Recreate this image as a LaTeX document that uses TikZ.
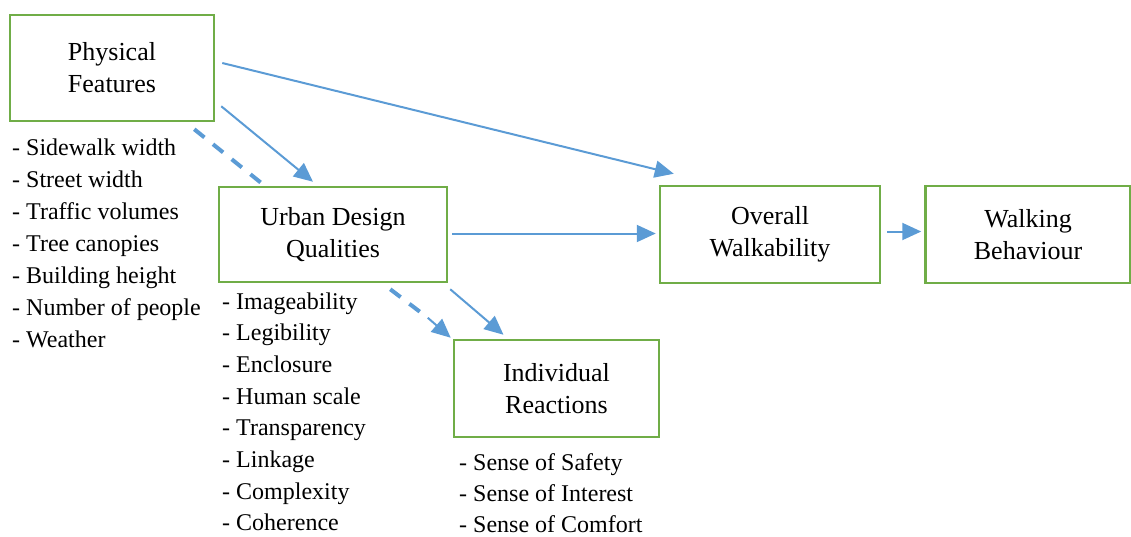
\documentclass[tikz,border=0pt]{standalone}
\usepackage{fontspec}
\setmainfont{Liberation Serif}
\usetikzlibrary{arrows.meta}
\definecolor{boxgreen}{HTML}{70AD47}
\definecolor{linkblue}{HTML}{5B9BD5}
\begin{document}
\begin{tikzpicture}[x=1pt,y=-1pt,
  concept/.style={draw=boxgreen,line width=2.5pt,align=center,inner sep=0pt,
    font=\fontsize{26}{32}\selectfont},
  item/.style={anchor=base west,inner sep=0pt,font=\fontsize{24}{32}\selectfont},
  link/.style={draw=linkblue,line width=2pt,-{Triangle[length=19pt,width=17pt]}},
  dashlink/.style={draw=linkblue,line width=4pt,dash pattern=on 13pt off 11pt}
]
\useasboundingbox (0,0) rectangle (1131,536);

% main concepts
\node[concept,minimum width=204pt,minimum height=106pt] (pf) at (112,68) {Physical\\Features};
\node[concept,minimum width=228pt,minimum height=95pt] (udq) at (333,234.5) {Urban Design\\Qualities};
\node[concept,minimum width=205pt,minimum height=97pt] (ir) at (556.5,388.5) {Individual\\Reactions};
\node[concept,minimum width=220pt,minimum height=97pt] (ow) at (770,234.5) {Overall\\Walkability};
\node[concept,minimum width=205pt,minimum height=97pt] (wb) at (1028,234.5) {Walking\\Behaviour};

% attribute lists
\foreach \t [count=\i] in {Sidewalk width,Street width,Traffic volumes,Tree canopies,Building height,Number of people,Weather}
  \node[item] (pf\i) at (12,{155+32*(\i-1)}) {- \t};
\foreach \t [count=\i] in {Imageability,Legibility,Enclosure,Human scale,Transparency,Linkage,Complexity,Coherence}
  \node[item] (udq\i) at (222,{309+31.7*(\i-1)}) {- \t};
\foreach \t [count=\i] in {Sense of Safety,Sense of Interest,Sense of Comfort}
  \node[item] (ir\i) at (459,{470+31.3*(\i-1)}) {- \t};

% connectors
\draw[link] ([xshift=7pt,yshift=5pt]pf.east) -- ([xshift=15pt,yshift=11pt]ow.north west);
\draw[link] ([xshift=6pt,yshift=16pt]pf.south east) -- ([xshift=-20pt,yshift=4pt]udq.north);
\draw[dashlink] ([xshift=-21pt,yshift=-7pt]pf.south east) -- ([xshift=47pt]udq.north west);
\draw[link] ([xshift=4pt,yshift=1pt]udq.east) -- ([xshift=-3pt,yshift=1pt]ow.west);
\draw[link] ([xshift=6pt,yshift=3pt]ow.east) -- ([xshift=-3pt,yshift=3pt]wb.west);
\draw[link] ([xshift=2pt,yshift=-6pt]udq.south east) -- ([xshift=-53pt,yshift=4pt]ir.north);
\draw[dashlink] ([xshift=-58pt,yshift=-6pt]udq.south east) -- ([xshift=-25pt,yshift=21pt]ir.north west);
\draw[link] ([xshift=-25pt,yshift=21pt]ir.north west) -- ([xshift=-2pt,yshift=1pt]ir.north west);
\end{tikzpicture}
\end{document}
